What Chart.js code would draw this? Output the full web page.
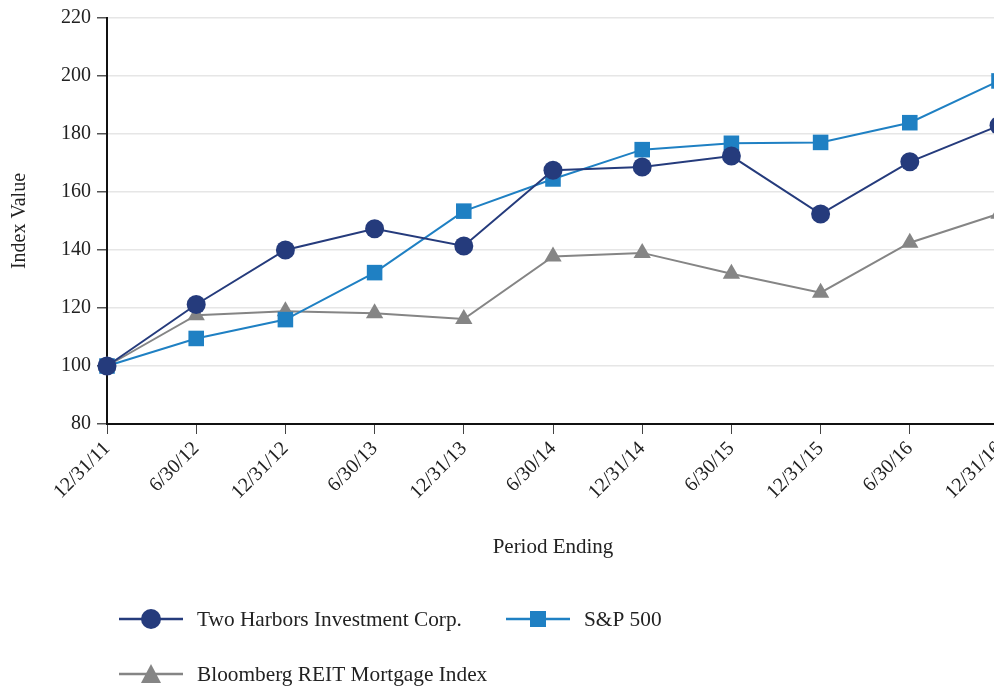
<!DOCTYPE html>
<html>
<head>
<meta charset="utf-8">
<script src="https://cdn.jsdelivr.net/npm/chart.js@4"></script>
<style>
  html, body { margin: 0; padding: 0; background: #fff; overflow: hidden; }
  #wrap { position: relative; width: 1020px; height: 690px; }
</style>
</head>
<body>
<div id="wrap"><canvas id="chart"></canvas></div>
<script>
const periods = ["12/31/11", "6/30/12", "12/31/12", "6/30/13", "12/31/13", "6/30/14", "12/31/14", "6/30/15", "12/31/15", "6/30/16", "12/31/16"];
const twoHarbors = [100, 121.2, 140, 147.3, 141.4, 167.5, 168.6, 172.4, 152.4, 170.4, 182.9];
const sp500 = [100, 109.5, 116, 132.2, 153.4, 164.5, 174.6, 176.8, 177.1, 183.9, 198.3];
const bloomberg = [100, 117.5, 118.9, 118.2, 116.2, 137.8, 139, 131.8, 125.3, 142.5, 152.5];
const yTicks = [80, 100, 120, 140, 160, 180, 200, 220];

const navy = "#253b7c";
const blue = "#1f80c3";
const grey = "#858585";
const serif = "'Liberation Serif', 'DejaVu Serif', serif";

// legend drawn by hand: two rows like the original
const legendPlugin = {
  id: "bottomLegend",
  afterDraw(chart) {
    const ctx = chart.ctx;
    const items = [
      { x: 119, y: 619, color: navy, shape: "circle", label: "Two Harbors Investment Corp." },
      { x: 506, y: 619, color: blue, shape: "rect", label: "S&P 500" },
      { x: 119, y: 674, color: grey, shape: "triangle", label: "Bloomberg REIT Mortgage Index" }
    ];
    ctx.save();
    items.forEach(it => {
      ctx.strokeStyle = it.color;
      ctx.lineWidth = 2.5;
      ctx.beginPath();
      ctx.moveTo(it.x, it.y);
      ctx.lineTo(it.x + 64, it.y);
      ctx.stroke();
      ctx.fillStyle = it.color;
      ctx.beginPath();
      const cx = it.x + 32, cy = it.y;
      if (it.shape === "circle") ctx.arc(cx, cy, 10, 0, Math.PI * 2);
      else if (it.shape === "rect") ctx.rect(cx - 8, cy - 8, 16, 16);
      else { ctx.moveTo(cx, cy - 10); ctx.lineTo(cx + 10, cy + 9); ctx.lineTo(cx - 10, cy + 9); ctx.closePath(); }
      ctx.fill();
      ctx.save();
      ctx.translate(it.x + 78, it.y + 1);
      ctx.scale(1.015, 1);
      ctx.fillStyle = "#222";
      ctx.font = "21px " + serif;
      ctx.textBaseline = "middle";
      ctx.fillText(it.label, 0, 0);
      ctx.restore();
    });
    ctx.restore();
  }
};

new Chart(document.getElementById("chart"), {
  type: "line",
  data: {
    labels: periods,
    datasets: [
      {
        label: "Two Harbors Investment Corp.",
        data: twoHarbors,
        borderColor: navy,
        backgroundColor: navy,
        borderWidth: 2,
        pointStyle: "circle",
        pointRadius: 9.5,
        pointBorderWidth: 0,
        tension: 0
      },
      {
        label: "S&P 500",
        data: sp500,
        borderColor: blue,
        backgroundColor: blue,
        borderWidth: 2,
        pointStyle: "rect",
        pointRadius: 11,
        pointBorderWidth: 0,
        tension: 0
      },
      {
        label: "Bloomberg REIT Mortgage Index",
        data: bloomberg,
        borderColor: grey,
        backgroundColor: grey,
        borderWidth: 2,
        pointStyle: "triangle",
        pointRadius: 10,
        pointBorderWidth: 0,
        tension: 0
      }
    ]
  },
  options: {
    responsive: true,
    maintainAspectRatio: false,
    animation: false,
    clip: false,
    layout: { padding: { top: 16, right: 21, bottom: 126, left: 0 } },
    plugins: {
      legend: { display: false },
      tooltip: { enabled: false }
    },
    scales: {
      x: {
        offset: false,
        border: { color: "#111", width: 2 },
        grid: { drawOnChartArea: false, drawTicks: true, tickLength: 10, tickColor: "#444" },
        ticks: {
          color: "#222",
          font: { family: serif, size: 20 },
          minRotation: 45,
          maxRotation: 45,
          autoSkip: false,
          padding: 3
        },
        title: {
          display: true,
          text: "Period Ending",
          color: "#222",
          font: { family: serif, size: 21 },
          padding: { top: 18 }
        },
        afterFit(scale) { scale.height = 140; }
      },
      y: {
        min: 80,
        max: 220,
        afterBuildTicks(scale) { scale.ticks = yTicks.map(v => ({ value: v })); },
        border: { color: "#111", width: 2 },
        grid: { color: "#e6e6e6", lineWidth: 1.5, drawTicks: true, tickLength: 10, tickColor: "#555" },
        ticks: {
          color: "#222",
          font: { family: serif, size: 20 },
          padding: 6
        },
        title: {
          display: true,
          text: "Index Value",
          color: "#222",
          font: { family: serif, size: 20 },
          padding: { top: 8, bottom: 0 }
        },
        afterFit(scale) { scale.width = 107; }
      }
    }
  },
  plugins: [legendPlugin]
});
</script>
</body>
</html>
